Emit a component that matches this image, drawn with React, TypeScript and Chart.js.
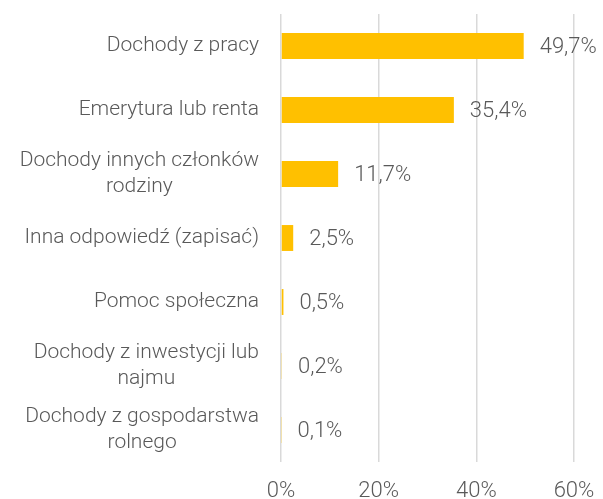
import React, { useEffect, useRef } from "react";
import { Chart, registerables } from "chart.js";

Chart.register(...registerables);

const categories: (string | string[])[] = [
  "Dochody z pracy",
  "Emerytura lub renta",
  ["Dochody innych członków", "rodziny"],
  "Inna odpowiedź (zapisać)",
  "Pomoc społeczna",
  ["Dochody z inwestycji lub", "najmu"],
  ["Dochody z gospodarstwa", "rolnego"],
];
const values = [49.7, 35.4, 11.7, 2.5, 0.5, 0.2, 0.1];
const valueLabels = ["49,7%", "35,4%", "11,7%", "2,5%", "0,5%", "0,2%", "0,1%"];
const xTicks = [0, 20, 40, 60];

const FONT = "Roboto, 'DejaVu Sans', sans-serif";
const TEXT = "#595959";

const labelPlugin = {
  id: "customLabels",
  afterDatasetsDraw(chart: any) {
    const ctx = chart.ctx;
    const meta = chart.getDatasetMeta(0);
    const yScale = chart.scales.y;
    ctx.save();
    ctx.fillStyle = TEXT;
    ctx.textBaseline = "middle";
    // value labels
    ctx.font = `300 22px ${FONT}`;
    ctx.textAlign = "left";
    meta.data.forEach((bar: any, i: number) => {
      ctx.fillText(valueLabels[i], bar.x + 16, bar.y + 1);
    });
    // category labels: block right-aligned, lines centered
    ctx.font = `300 21px ${FONT}`;
    ctx.textAlign = "center";
    const rightEdge = chart.chartArea.left - 22;
    const lineH = 26;
    categories.forEach((c, i) => {
      const lines = Array.isArray(c) ? c : [c];
      const w = Math.max(...lines.map((l) => ctx.measureText(l).width));
      const cx = rightEdge - w / 2;
      const cy = yScale.getPixelForValue(i);
      const startY = cy - ((lines.length - 1) * lineH) / 2;
      lines.forEach((l, j) => ctx.fillText(l, cx, startY + j * lineH));
    });
    ctx.restore();
  },
};

export default function App() {
  const ref = useRef<HTMLCanvasElement | null>(null);
  useEffect(() => {
    if (!ref.current) return;
    const chart = new Chart(ref.current, {
      type: "bar",
      data: {
        labels: categories,
        datasets: [
          {
            data: values,
            backgroundColor: "#FFC000",
            borderWidth: 0,
            barPercentage: 0.81,
            categoryPercentage: 0.5,
          },
        ],
      },
      options: {
        indexAxis: "y",
        animation: false,
        responsive: false,
        maintainAspectRatio: false,
        layout: { padding: { top: 14, right: 29, left: 0, bottom: 0 } },
        plugins: { legend: { display: false }, tooltip: { enabled: false } },
        scales: {
          x: {
            min: 0,
            max: 60,
            afterBuildTicks: (scale: any) => {
              scale.ticks = xTicks.map((v) => ({ value: v }));
            },
            afterFit: (scale: any) => {
              scale.height = 37;
              scale.paddingLeft = 0;
              scale.paddingRight = 0;
            },
            grid: { color: "#d9d9d9", lineWidth: 1.5, drawTicks: false },
            border: { display: false },
            ticks: {
              color: TEXT,
              font: { family: FONT, size: 22, weight: "300" },
              padding: 16,
              callback: (v: any) => `${v}%`,
            },
          },
          y: {
            afterFit: (scale: any) => {
              scale.width = 281;
              scale.paddingTop = 0;
              scale.paddingBottom = 0;
            },
            grid: { display: false, drawTicks: false },
            border: { display: false },
            ticks: { display: false },
          },
        },
      },
      plugins: [labelPlugin],
    });
    return () => chart.destroy();
  }, []);
  return (
    <div style={{ position: "fixed", left: 0, top: 0, width: 603, height: 499, background: "#fff" }}>
      <canvas ref={ref} width={603} height={499} />
    </div>
  );
}
